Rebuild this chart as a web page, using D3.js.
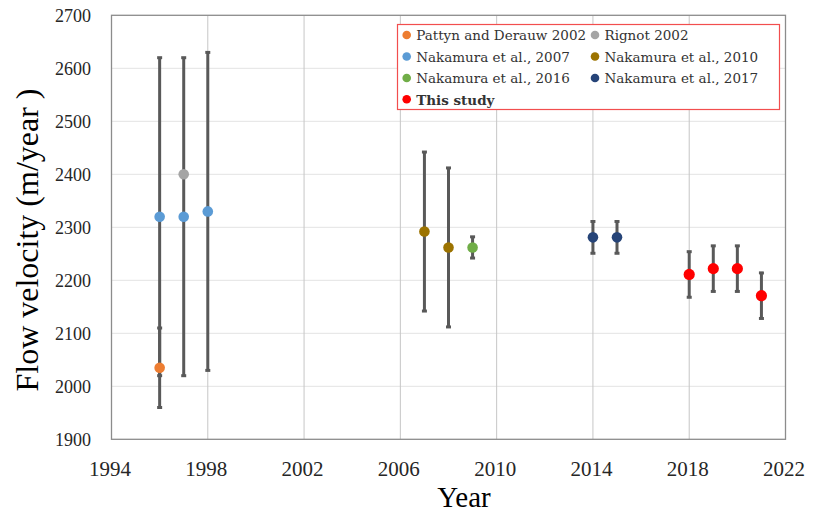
<!DOCTYPE html>
<html>
<head>
<meta charset="utf-8">
<script src="https://cdn.jsdelivr.net/npm/d3@7/dist/d3.min.js"></script>
<style>
  html, body { margin: 0; padding: 0; background: #fff; }
  svg { display: block; }
  .serif { font-family: "Liberation Serif", "Times New Roman", serif; }
</style>
</head>
<body>
<svg id="chart" width="820" height="513"></svg>
<script>
// Flow velocity measurements by source (year, velocity in m/year, ± error)
const seriesNames = [
  "Pattyn and Derauw 2002", "Rignot 2002",
  "Nakamura et al., 2007", "Nakamura et al., 2010",
  "Nakamura et al., 2016", "Nakamura et al., 2017",
  "This study"
];
const seriesColors = ["#ED7D31", "#A5A5A5", "#5B9BD5", "#9C7300", "#70AD47", "#264478", "#FF0000"];

const pattynYears = [1996];             const pattynVel = [2035];              const pattynErr = [75];
const rignotYears = [1997];             const rignotVel = [2400];              const rignotErr = [0];
const nak2007Years = [1996, 1997, 1998]; const nak2007Vel = [2320, 2320, 2330]; const nak2007Err = [300, 300, 300];
const nak2010Years = [2007, 2008];       const nak2010Vel = [2292, 2262];       const nak2010Err = [150, 150];
const nak2016Years = [2009];             const nak2016Vel = [2262];             const nak2016Err = [20];
const nak2017Years = [2014, 2015];       const nak2017Vel = [2281, 2281];       const nak2017Err = [30, 30];
const studyYears = [2018, 2019, 2020, 2021]; const studyVel = [2211, 2222, 2222, 2171]; const studyErr = [43, 43, 43, 43];

const xTicks = [1994, 1998, 2002, 2006, 2010, 2014, 2018, 2022];
const yTicks = [1900, 2000, 2100, 2200, 2300, 2400, 2500, 2600, 2700];

const seriesData = [
  [pattynYears, pattynVel, pattynErr],
  [rignotYears, rignotVel, rignotErr],
  [nak2007Years, nak2007Vel, nak2007Err],
  [nak2010Years, nak2010Vel, nak2010Err],
  [nak2016Years, nak2016Vel, nak2016Err],
  [nak2017Years, nak2017Vel, nak2017Err],
  [studyYears, studyVel, studyErr]
].map((s, i) => s[0].map((yr, j) => ({ series: i, year: yr, v: s[1][j], err: s[2][j] })));

const svg = d3.select("#chart");
const plotLeft = 111.5, plotRight = 785.5, plotTop = 15.3, plotBottom = 439.3;

const x = d3.scaleLinear().domain([1994, 2022]).range([plotLeft, plotRight]);
const y = d3.scaleLinear().domain([1900, 2700]).range([plotBottom, plotTop]);

// grid
const grid = svg.append("g");
grid.selectAll(".hg").data(yTicks.slice(1, -1)).join("line")
  .attr("x1", plotLeft).attr("x2", plotRight)
  .attr("y1", d => y(d)).attr("y2", d => y(d))
  .attr("stroke", "#e3e3e3").attr("stroke-width", 1);
grid.selectAll(".vg").data(xTicks.slice(1, -1)).join("line")
  .attr("x1", d => x(d)).attr("x2", d => x(d))
  .attr("y1", plotTop).attr("y2", plotBottom)
  .attr("stroke", "#c6c6c6").attr("stroke-width", 1);

// plot frame
svg.append("rect")
  .attr("x", plotLeft).attr("y", plotTop)
  .attr("width", plotRight - plotLeft).attr("height", plotBottom - plotTop)
  .attr("fill", "none").attr("stroke", "#8c8c8c").attr("stroke-width", 1.3);

// axes
const yAxis = svg.append("g")
  .attr("transform", `translate(${plotLeft},0)`)
  .call(d3.axisLeft(y).tickValues(yTicks).tickSize(0).tickPadding(20.5).tickFormat(d3.format("d")))
  .attr("font-family", null);
yAxis.select(".domain").remove();
yAxis.selectAll("text")
  .attr("class", "serif")
  .attr("font-size", 18).attr("fill", "#262626");

const xAxis = svg.append("g")
  .attr("transform", `translate(0,${plotBottom})`)
  .call(d3.axisBottom(x).tickValues(xTicks).tickSize(0).tickFormat(d3.format("d")))
  .attr("font-family", null);
xAxis.select(".domain").remove();
xAxis.selectAll("text")
  .attr("y", 36.7).attr("dy", 0).attr("dx", -2)
  .attr("class", "serif")
  .attr("font-size", 21).attr("fill", "#262626");

// axis titles
svg.append("text")
  .attr("class", "serif")
  .attr("transform", `translate(38,240) rotate(-90)`)
  .attr("text-anchor", "middle")
  .attr("font-size", 32).attr("fill", "#000")
  .text("Flow velocity (m/year )");

svg.append("text")
  .attr("class", "serif")
  .attr("x", 464).attr("y", 506.5)
  .attr("text-anchor", "middle")
  .attr("font-size", 29).attr("fill", "#000")
  .text("Year");

// error bars
const allPts = seriesData.flat();
const barPts = allPts.filter(d => d.err > 0);
const bars = svg.append("g").attr("stroke", "#595959");
bars.selectAll(".eb").data(barPts).join("line")
  .attr("x1", d => x(d.year)).attr("x2", d => x(d.year))
  .attr("y1", d => y(d.v - d.err)).attr("y2", d => y(d.v + d.err))
  .attr("stroke-width", 3);
bars.selectAll(".capT").data(barPts).join("line")
  .attr("x1", d => x(d.year) - 2.5).attr("x2", d => x(d.year) + 2.5)
  .attr("y1", d => y(d.v + d.err)).attr("y2", d => y(d.v + d.err))
  .attr("stroke-width", 3);
bars.selectAll(".capB").data(barPts).join("line")
  .attr("x1", d => x(d.year) - 2.5).attr("x2", d => x(d.year) + 2.5)
  .attr("y1", d => y(d.v - d.err)).attr("y2", d => y(d.v - d.err))
  .attr("stroke-width", 3);

// markers
svg.append("g").selectAll("circle").data(allPts).join("circle")
  .attr("cx", d => x(d.year)).attr("cy", d => y(d.v))
  .attr("r", d => d.series === 6 ? 5.6 : 5.3)
  .attr("fill", d => seriesColors[d.series]);

// legend
const lg = svg.append("g");
lg.append("rect")
  .attr("x", 397.5).attr("y", 24.5).attr("width", 382).attr("height", 85)
  .attr("fill", "#fff").attr("stroke", "#f24e4e").attr("stroke-width", 1.2);
const colX = [406.7, 595];
const rowY = [35, 56.5, 78, 99.3];
seriesNames.forEach((name, i) => {
  const cx = colX[i % 2], cy = rowY[Math.floor(i / 2)];
  lg.append("circle").attr("cx", cx).attr("cy", cy).attr("r", 4.3).attr("fill", seriesColors[i]);
  lg.append("text")
    .attr("x", cx + 9.5).attr("y", cy + 5.2)
    .attr("font-family", "'DejaVu Serif', serif")
    .attr("font-size", 13.5)
    .attr("font-weight", i === 6 ? "bold" : "normal")
    .attr("fill", "#333")
    .text(name);
});
</script>
</body>
</html>
